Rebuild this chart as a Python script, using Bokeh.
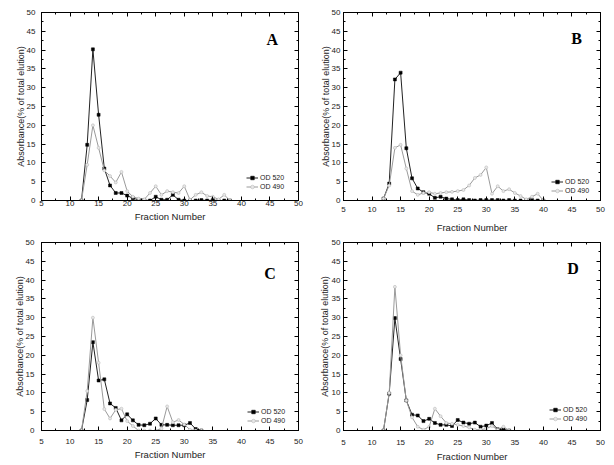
from bokeh.plotting import figure
from bokeh.layouts import column, row
from bokeh.models import (Range1d, SingleIntervalTicker, LinearAxis, Label, Legend,
                          CustomJSTickFormatter)
from bokeh.embed import file_html
from bokeh.resources import INLINE

# ---- data ----
x_A = list(range(12, 39))
od520_A = [0, 14.8, 40.2, 22.8, 8.5, 4.0, 2.0, 2.0, 1.3, 0.6, 0.2, 0.1, 0.0, 1.0, 0.2, 0.2,
           1.5, 0.2, 0.0, 0.0, 0.0, 0.1, 0.0, 0.1, 0.0, 0.0, 0.0]
od490_A = [0, 9.5, 20.0, 14.0, 8.0, 6.5, 4.8, 7.6, 2.5, 1.0, 0.5, 0.3, 2.0, 3.8, 1.5, 2.5,
           2.2, 2.0, 3.8, 0.2, 1.5, 2.2, 1.2, 1.0, 0.3, 1.5, 0.0]

x_B = list(range(12, 41))
od520_B = [0.5, 4.5, 32.2, 34.0, 13.9, 5.9, 3.2, 2.2, 1.8, 0.7, 1.0, 0.5, 0.3, 0.1, 0.3, 0.1,
           0.0, 0.1, 0.1, 0.1, 0.1, 0.0, 0.1, 0.0, 0.0, 0.0, 0.1, 0.0, 0.0]
od490_B = [0.5, 4.0, 14.0, 14.8, 8.5, 2.5, 1.5, 2.0, 2.2, 1.8, 2.0, 2.2, 2.3, 2.5, 2.8, 4.0,
           6.0, 6.8, 8.8, 1.8, 3.8, 2.5, 3.0, 2.0, 1.2, 0.3, 1.0, 1.8, 0.0]

x_C = list(range(12, 34))
od520_C = [0, 8.1, 23.5, 13.3, 13.6, 7.2, 6.0, 2.7, 4.3, 2.7, 1.5, 1.4, 1.8, 3.2, 1.5, 1.5,
           1.4, 1.4, 1.4, 2.0, 0.4, 0.0]
od490_C = [0, 10.5, 30.0, 18.0, 5.7, 3.2, 5.5, 5.8, 2.5, 1.2, 0.0, 0.0, 0.0, 0.0, 0.5, 6.4,
           2.2, 2.8, 1.6, 0.2, 0.0, 0.0]

x_D = list(range(12, 35))
od520_D = [0, 9.8, 29.9, 19.0, 8.0, 4.2, 4.0, 2.5, 3.1, 2.0, 1.5, 1.5, 1.2, 2.8, 2.1, 1.8,
           2.1, 1.0, 1.3, 2.0, 0.3, 0.3, 0.0]
od490_D = [0, 10.0, 38.2, 20.0, 8.0, 3.5, 1.0, 0.2, 1.0, 5.8, 3.8, 2.0, 1.8, 1.5, 1.2, 0.8,
           0.2, 0.2, 0.5, 1.2, 0.2, 1.0, 0.0]

panel_letters = ["A", "B", "C", "D"]
series_names = ["OD 520", "OD 490"]
x_label = "Fraction Number"
y_label = "Absorbance(% of total elution)"

FONT = "Liberation Sans"


def make_panel(xs, s520, s490, letter, w, h, bl, br, bt, bb, xstand, ystand, letter_xy, leg_xy):
    p = figure(width=w, height=h, output_backend="svg", toolbar_location=None,
               x_range=Range1d(5, 50), y_range=Range1d(0, 50),
               min_border_left=bl, min_border_right=br, min_border_top=bt, min_border_bottom=bb)
    p.xgrid.visible = False
    p.ygrid.visible = False
    p.outline_line_color = "black"
    p.outline_line_width = 1
    p.background_fill_color = "white"
    p.border_fill_color = "white"

    for ax in (p.xaxis[0], p.yaxis[0]):
        ax.ticker = SingleIntervalTicker(interval=5, num_minor_ticks=2)
        ax.major_tick_in = 4
        ax.major_tick_out = 0
        ax.minor_tick_in = 2
        ax.minor_tick_out = 0
        ax.axis_line_color = "black"
        ax.major_tick_line_color = "black"
        ax.minor_tick_line_color = "black"
        ax.major_label_text_font = FONT
        ax.major_label_text_font_size = "8px"
        ax.major_label_text_color = "#222222"
        ax.axis_label_text_font = FONT
        ax.axis_label_text_font_style = "normal"
        ax.axis_label_text_color = "#222222"
    p.xaxis[0].axis_label = x_label
    p.xaxis[0].axis_label_text_font_size = "9.5px"
    p.xaxis[0].major_label_standoff = xstand[0]
    p.xaxis[0].axis_label_standoff = xstand[1]
    p.yaxis[0].axis_label = y_label
    p.yaxis[0].axis_label_text_font_size = "9px"
    p.yaxis[0].major_label_standoff = ystand[0]
    p.yaxis[0].axis_label_standoff = ystand[1]

    for loc in ("above", "right"):
        ax = LinearAxis(ticker=SingleIntervalTicker(interval=5, num_minor_ticks=2),
                        formatter=CustomJSTickFormatter(code="return ''"))
        ax.major_tick_in = 4
        ax.major_tick_out = 0
        ax.minor_tick_in = 2
        ax.minor_tick_out = 0
        ax.major_label_text_font_size = "1px"
        ax.major_label_standoff = 0
        ax.axis_line_color = "black"
        p.add_layout(ax, loc)

    l1 = p.line(xs, s520, line_color="#222222", line_width=1)
    m1 = p.scatter(xs, s520, marker="square", size=3, fill_color="black", line_color="black",
                   line_width=0.5)
    l2 = p.line(xs, s490, line_color="#9a9a9a", line_width=1)
    m2 = p.scatter(xs, s490, marker="circle", size=3, fill_color="#e8e8e8", line_color="#b0b0b0",
                   line_width=0.5)

    legend = Legend(items=[(series_names[0], [l1, m1]), (series_names[1], [l2, m2])],
                    location=leg_xy, orientation="vertical")
    legend.glyph_width = 12
    legend.glyph_height = 9
    legend.label_height = 9
    legend.label_standoff = 2
    legend.label_text_font = FONT
    legend.label_text_font_size = "7px"
    legend.label_text_color = "#222222"
    legend.spacing = 0
    legend.padding = 0
    legend.margin = 0
    legend.border_line_color = None
    legend.background_fill_alpha = 0
    p.add_layout(legend, "center")

    p.add_layout(Label(x=letter_xy[0], y=letter_xy[1], text=letter, text_font="Liberation Serif",
                       text_font_style="bold", text_font_size="16px", text_color="black",
                       text_align="center", text_baseline="middle"))
    return p


pA = make_panel(x_A, od520_A, od490_A, panel_letters[0], 307, 236, 41, 9, 11, 36,
                (0, 2), (6, -2), (45.4, 42.9), (205, 9))
pB = make_panel(x_B, od520_B, od490_B, panel_letters[1], 307, 236, 36, 14, 12, 35,
                (6, 7), (3, -2), (45.8, 43.2), (208, 5))
pC = make_panel(x_C, od520_C, od490_C, panel_letters[2], 307, 229, 41, 9, 5, 35,
                (8, 2), (7, -2), (45.0, 41.8), (206, 5))
pD = make_panel(x_D, od520_D, od490_D, panel_letters[3], 307, 229, 36, 14, 6, 34,
                (9, 3), (3, -1), (45.2, 43.2), (206, 7))

layout = column(row(pA, pB, spacing=0), row(pC, pD, spacing=0), spacing=0)

open("out.html", "w").write(file_html(layout, INLINE))
